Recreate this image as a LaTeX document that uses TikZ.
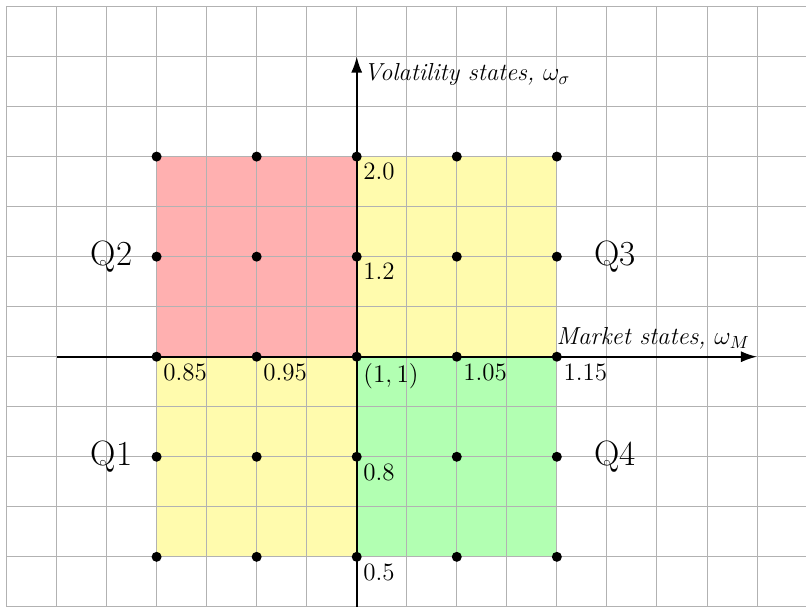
\documentclass[tikz,border=0pt]{standalone}
\usetikzlibrary{arrows.meta}
\begin{document}
\begin{tikzpicture}[x=1cm,y=1cm,
  gridline/.style={draw=gray!60,line width=0.5pt},
  axisline/.style={line width=1pt,-{Latex[length=3.2mm,width=2.2mm]}},
  dotnode/.style={circle,fill=black,inner sep=0pt,minimum size=2mm},
  ticklab/.style={font=\fontsize{14.2}{16}\selectfont,below right,inner sep=3.6pt},
  axlab/.style={font=\fontsize{14}{16}\selectfont\itshape,inner sep=3.6pt},
  qlab/.style={font=\fontsize{20}{22}\selectfont}]
\useasboundingbox (-7.13,-5) rectangle (8.98,7.13);
% quadrant fills
\fill[red!31] (-4,0) rectangle (0,4);
\fill[yellow!32] (0,0) rectangle (4,4);
\fill[yellow!32] (-4,-4) rectangle (0,0);
\fill[green!30] (0,-4) rectangle (4,0);
% grid
\begin{scope}
\clip (-7.13,-5) rectangle (8.98,7.13);
\draw[gridline] (-7,-6) grid (9,7);
\end{scope}
% axes
\coordinate (xs) at (-6,0);
\coordinate (xe) at (8,0);
\coordinate (ys) at (0,-5);
\coordinate (ye) at (0,6);
\draw[axisline] (xs) -- (xe) node[axlab,above left] (xl) {Market states, $\omega_M$};
\draw[axisline] (ys) -- (ye) node[axlab,below right] (yl) {Volatility states, $\omega_\sigma$};
% dots
\foreach \i in {-4,-2,0,2,4}{
  \foreach \j in {-4,-2,0,2,4}{
    \node[dotnode] (d\i\j) at (\i,\j) {};
  }
}
% tick labels
\node[ticklab] (l1) at (-4,0) {0.85};
\node[ticklab] (l2) at (-2,0) {0.95};
\node[ticklab] (l3) at (0,0) {$(1,1)$};
\node[ticklab] (l4) at (2,0) {1.05};
\node[ticklab] (l5) at (4,0) {1.15};
\node[ticklab] (m1) at (0,4) {2.0};
\node[ticklab] (m2) at (0,2) {1.2};
\node[ticklab] (m3) at (0,-2) {0.8};
\node[ticklab] (m4) at (0,-4) {0.5};
% quadrant labels
\node[qlab] (q2) at (-4.9,2) {Q2};
\node[qlab] (q3) at (5.16,2) {Q3};
\node[qlab] (q1) at (-4.9,-2) {Q1};
\node[qlab] (q4) at (5.16,-2) {Q4};
\end{tikzpicture}
\end{document}
